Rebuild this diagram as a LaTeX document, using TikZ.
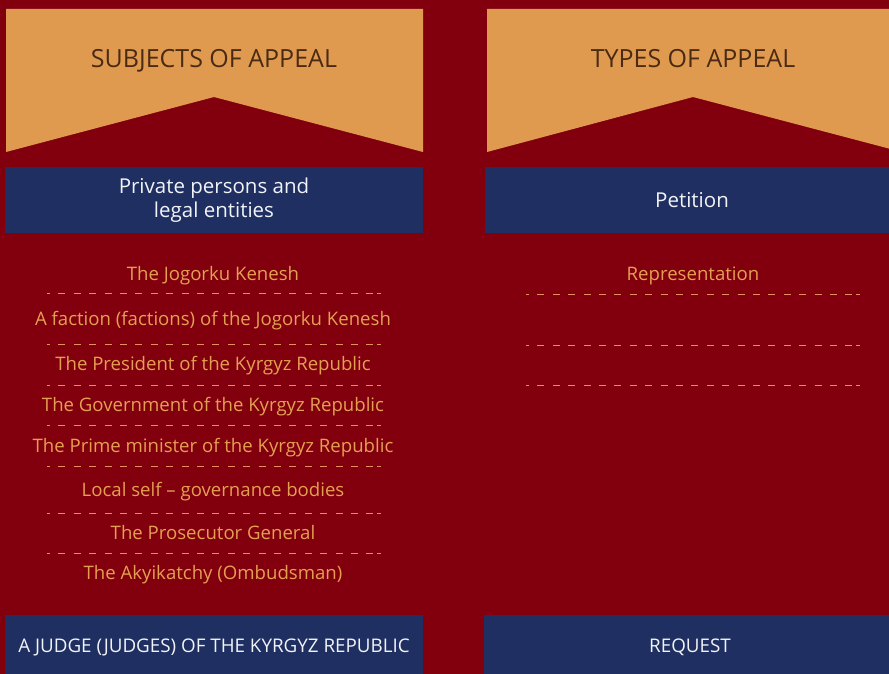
\documentclass[tikz,border=0pt]{standalone}
\usepackage{fontspec}
\setmainfont{Open Sans}
\usetikzlibrary{positioning}

\definecolor{appealred}{HTML}{82000E}
\definecolor{bannerorange}{HTML}{E09A50}
\definecolor{boxblue}{HTML}{1F2F62}
\definecolor{headbrown}{HTML}{4A2A12}
\definecolor{itemorange}{HTML}{E3A052}
\definecolor{dashorange}{HTML}{E39060}

\tikzset{
	heading/.style={text=headbrown, font=\fontsize{25}{30}\selectfont},
	bluebox/.style={fill=boxblue, text=white!94!boxblue, inner sep=0pt,
		align=center, font=\fontsize{20.5}{24}\selectfont},
	item/.style={text=itemorange, anchor=base, font=\fontsize{18.6}{22}\selectfont},
	separator/.style={draw=dashorange, line width=1pt,
		dash pattern=on 7pt off 8.4pt, dash phase=4pt},
}

% dashed rule from x=#1 to x=#2 at height #3, with a short closing dash
\newcommand{\seprule}[3]{
	\draw[separator] (#1,#3) -- (#2-8,#3);
	\draw[separator, solid] (#2-4,#3) -- (#2,#3);
}

\begin{document}
\begin{tikzpicture}[x=1pt,y=-1pt]

	% ---- page

	\useasboundingbox (0,0) rectangle (889,674);
	\clip (0,0) rectangle (889,674);
	\fill[appealred] (0,0) rectangle (889,674);

	% ---- banners

	\fill[bannerorange] (6,9) -- (423,9) -- (423,152) -- (214,97) -- (6,152) -- cycle;
	\fill[bannerorange] (487,9) -- (902,9) -- (902,152) -- (693,97) -- (487,152) -- cycle;

	\node[heading, anchor=base] (subjects) at (214,68) {SUBJECTS OF APPEAL};
	\node[heading, anchor=base] (types) at (693,68) {TYPES OF APPEAL};

	% ---- blue boxes

	\node[bluebox, minimum width=418pt, minimum height=66pt] (private) at (214,200)
		{Private persons and\\legal entities};
	\node[bluebox, minimum width=414pt, minimum height=66pt] (petition) at (692,200)
		{Petition};

	\node[bluebox, font=\fontsize{18.8}{22}\selectfont,
		minimum width=418pt, minimum height=64pt] (judge) at (214,647)
		{A JUDGE (JUDGES) OF THE KYRGYZ REPUBLIC};
	\node[bluebox, font=\fontsize{18.8}{22}\selectfont,
		minimum width=412pt, minimum height=64pt] (request) at (690,647)
		{REQUEST};

	% ---- subjects list

	\foreach \y/\txt [count=\i] in {
		280/{The Jogorku Kenesh},
		325/{A faction (factions) of the Jogorku Kenesh},
		370/{The President of the Kyrgyz Republic},
		411/{The Government of the Kyrgyz Republic},
		452/{The Prime minister of the Kyrgyz Republic},
		496/{Local self – governance bodies},
		539/{The Prosecutor General},
		579/{The Akyikatchy (Ombudsman)}} {
		\node[item] (subject\i) at (213,\y) {\txt};
	}

	\foreach \y in {293,344,385,425,466,513,553} {
		\seprule{47}{381}{\y}
	}

	% ---- types list

	\node[item] (representation) at (693,280) {Representation};

	\foreach \y in {294,345,385} {
		\seprule{526}{860}{\y}
	}

\end{tikzpicture}
\end{document}
